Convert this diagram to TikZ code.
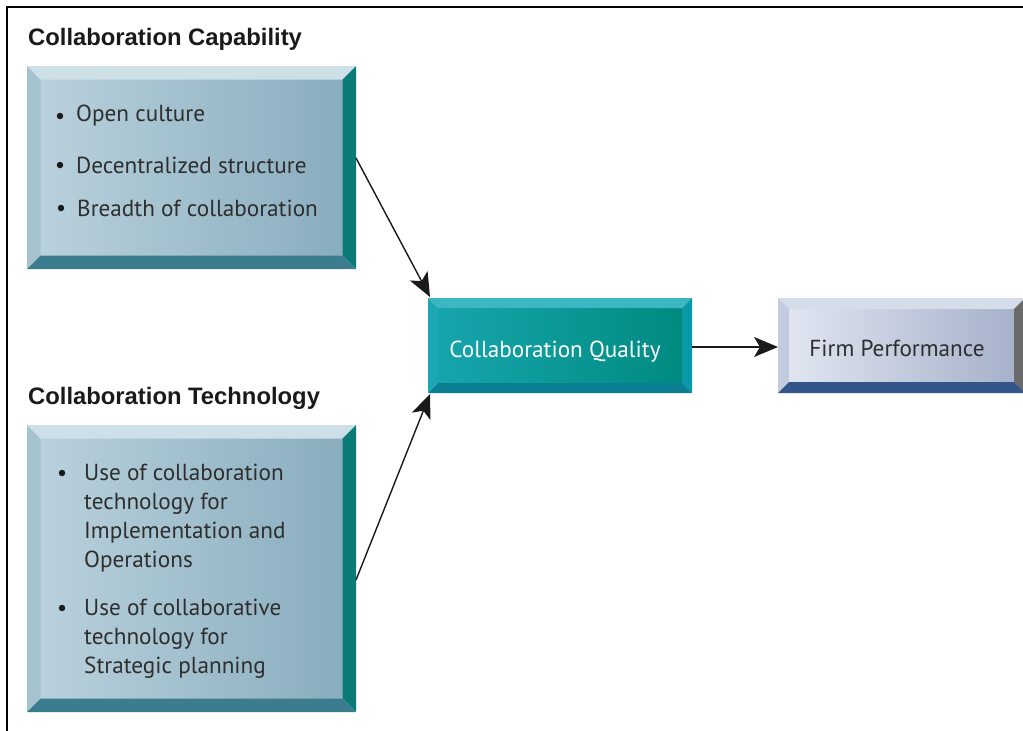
\documentclass[tikz,border=0pt]{standalone}
\usepackage{fontspec}
\setmainfont{PT Sans}
\newfontfamily\titlefont{Liberation Sans}
\usetikzlibrary{calc,arrows.meta}
\definecolor{txt}{HTML}{2E2E2E}
\definecolor{ttl}{HTML}{1A1A1A}
% light blue boxes
\definecolor{lbFaceL}{HTML}{B9D1DC}
\definecolor{lbFaceR}{HTML}{89ADBE}
\definecolor{lbTop}{HTML}{CDE0E7}
\definecolor{lbLeft}{HTML}{A5C3CF}
\definecolor{lbRight}{HTML}{0B7B78}
\definecolor{lbBot}{HTML}{3B7C8E}
% teal box
\definecolor{tqFaceL}{HTML}{16A5AD}
\definecolor{tqFaceR}{HTML}{008B80}
\definecolor{tqTop}{HTML}{3CB6C0}
\definecolor{tqLeft}{HTML}{1BA7B4}
\definecolor{tqRight}{HTML}{0898A8}
\definecolor{tqBot}{HTML}{0A7F91}
% firm box
\definecolor{fpFaceL}{HTML}{E0E5F0}
\definecolor{fpFaceR}{HTML}{A6B2CB}
\definecolor{fpTop}{HTML}{D5DCEA}
\definecolor{fpLeft}{HTML}{C3CBDE}
\definecolor{fpRight}{HTML}{6B6B6B}
\definecolor{fpBot}{HTML}{33558A}

% #1 node name, #2 bevel, #3 prefix of colours
\newcommand\bevelbox[3]{%
  \path (#1.north west) coordinate (#1o1) (#1.north east) coordinate (#1o2)
        (#1.south east) coordinate (#1o3) (#1.south west) coordinate (#1o4);
  \path ($(#1o1)+(#2,#2)$) coordinate (#1i1) ($(#1o2)+(-#2,#2)$) coordinate (#1i2)
        ($(#1o3)+(-#2,-#2)$) coordinate (#1i3) ($(#1o4)+(#2,-#2)$) coordinate (#1i4);
  \shade[left color=#3FaceL, right color=#3FaceR] (#1i1) rectangle (#1i3);
  \fill[#3Top] (#1o1)--(#1o2)--(#1i2)--(#1i1)--cycle;
  \fill[#3Left] (#1o1)--(#1i1)--(#1i4)--(#1o4)--cycle;
  \fill[#3Right] (#1o2)--(#1o3)--(#1i3)--(#1i2)--cycle;
  \fill[#3Bot] (#1o4)--(#1i4)--(#1i3)--(#1o3)--cycle;
}

\tikzset{
  box/.style={inner sep=0pt, outer sep=0pt},
  title/.style={anchor=west, inner sep=0pt, font=\titlefont\bfseries\fontsize{23.8}{28}\selectfont, text=ttl},
  item/.style={anchor=west, inner sep=0pt, align=left, text=txt, font=\fontsize{23.2}{29}\selectfont},
  dot/.style={circle, fill=ttl, inner sep=0pt, minimum size=6.5pt},
  conn/.style={draw=ttl, line width=1.4pt, -{Stealth[length=24pt, width=20pt, inset=6pt]}},
}

\begin{document}
\begin{tikzpicture}[x=1pt, y=-1pt]
\useasboundingbox (0,0) rectangle (1023,731);
\fill[white] (0,0) rectangle (1023,731);
% frame
\draw[line width=1.6pt, black] (1030,7) -- (7,7) -- (7,740);

% boxes
\node[box, minimum width=329pt, minimum height=203pt] (cap) at (191.5,167.5) {};
\node[box, minimum width=329pt, minimum height=287pt] (tech) at (191.5,568.5) {};
\node[box, minimum width=264pt, minimum height=95pt] (qual) at (560,345.5) {};
\node[box, minimum width=247pt, minimum height=95pt] (firm) at (901.5,345.5) {};

\bevelbox{cap}{13.5}{lb}
\bevelbox{tech}{13.5}{lb}
\bevelbox{qual}{10}{tq}
\bevelbox{firm}{11}{fp}

% titles
\node[title] (t1) at (28,39) {Collaboration Capability};
\node[title] (t2) at (28,398) {Collaboration Technology};

% capability items
\node[dot] (b1) at (60,116) {};
\node[item] (c1) at (76,116) {Open culture};
\node[dot] (b2) at (60,165) {};
\node[item] (c2) at (76,165) {Decentralized structure};
\node[dot] (b3) at (61,208) {};
\node[item] (c3) at (77,208) {Breadth of collaboration};

% technology items
\node[dot] (b4) at (62,473) {};
\node[item, anchor=north west] (d1) at (84,464) {Use of collaboration\\technology for\\Implementation and\\Operations};
\node[dot] (b5) at (62,608) {};
\node[item, anchor=north west] (d2) at (84,599) {Use of collaborative\\technology for\\Strategic planning};

% box labels
\node[inner sep=0pt, text=white, font=\fontsize{23.2}{26}\selectfont] (ql) at (555,351.5) {Collaboration Quality};
\node[inner sep=0pt, text=txt, font=\fontsize{23.2}{26}\selectfont] (fl) at (897,348.5) {Firm Performance};

% connectors
\draw[conn] ([yshift=9.5pt]cap.east) -- ([xshift=2pt,yshift=1pt]qual.north west);
\draw[conn] ([yshift=-11.5pt]tech.east) -- ([xshift=2pt,yshift=-1pt]qual.south west);
\draw[conn] ([yshift=-1.5pt]qual.east) -- ([yshift=-1.5pt]firm.west);
\end{tikzpicture}
\end{document}
